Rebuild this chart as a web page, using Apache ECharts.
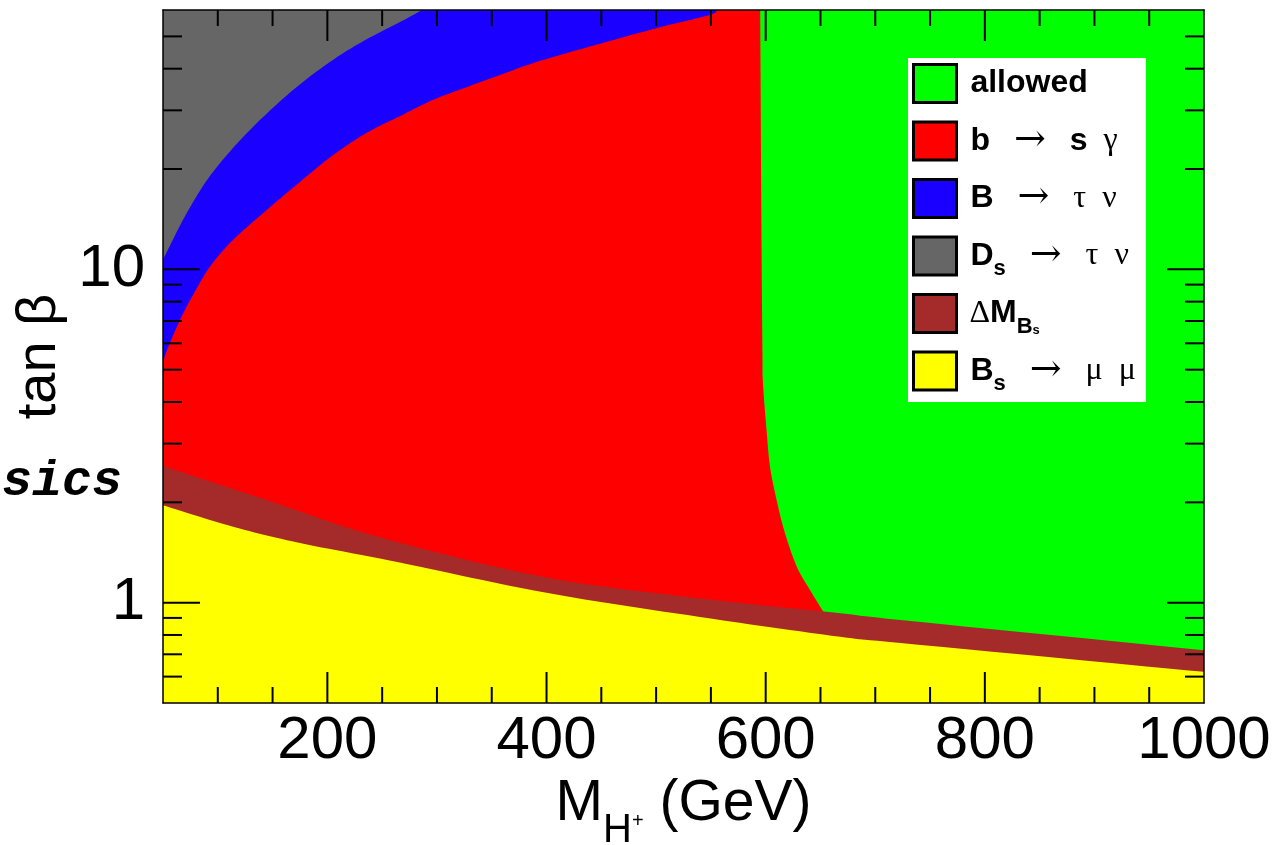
<!DOCTYPE html>
<html>
<head>
<meta charset="utf-8">
<script src="https://cdn.jsdelivr.net/npm/echarts@6/dist/echarts.min.js"></script>
<style>
  html, body { margin: 0; padding: 0; background: #fff; }
  #chart { width: 1281px; height: 845px; }
</style>
</head>
<body>
<div id="chart"></div>
<script>
// ---- axis ranges and ticks ----
const xRange = [50, 1000];
const yRange = [0.5, 60];
const xLabelValues = [200, 400, 600, 800, 1000];
const yLabelValues = [1, 10];
const xMajorTicks = [200, 400, 600, 800];
const xMinorTicks = [100, 150, 250, 300, 350, 450, 500, 550, 650, 700, 750, 850, 900, 950];
const yMajorTicks = [1, 10];
const yMinorTicks = [0.6, 0.7, 0.8, 0.9, 2, 3, 4, 5, 6, 7, 8, 9, 20, 30, 40, 50];

// ---- region boundaries (M_H+ in GeV, tan beta) ----
// b -> s gamma : excluded left of this curve
const bsgM   = [595, 596, 597, 597.5, 601, 604, 610, 617.5, 628.5, 640.5, 652.5];
const bsgTan = [60, 15, 5.73, 4.56, 3.23, 2.55, 2.03, 1.62, 1.28, 1.09, 0.94];
// B -> tau nu : excluded above this curve
const btnM   = [50, 53.7, 65.5, 77.4, 92.9, 113.9, 144.9, 175, 205, 236, 266, 296, 327, 357.5, 388, 419, 451.5, 501, 549, 555];
const btnTan = [5.27, 5.73, 7.05, 8.38, 10.2, 12.25, 15.1, 18.3, 22.0, 25.7, 28.8, 32.2, 35.2, 38.3, 41.6, 44.6, 47.8, 53.0, 58.0, 60];
// Ds -> tau nu : excluded above this curve
const dstnM   = [50, 71.9, 95.6, 129.4, 168.6, 205.1, 236.2, 266.3, 286.4];
const dstnTan = [10.7, 14.8, 19.6, 26.2, 34.5, 42.5, 49.1, 55.2, 60];
// Delta M_Bs : excluded below this curve
const dmbsM   = [50, 145, 248, 400, 540, 668, 723, 1000];
const dmbsTan = [2.57, 2.03, 1.57, 1.19, 1.03, 0.93, 0.887, 0.72];
// Bs -> mu mu : excluded below this curve
const bsmmM   = [50, 114, 175, 266, 400, 540, 668, 723, 1000];
const bsmmTan = [1.96, 1.69, 1.51, 1.32, 1.07, 0.906, 0.79, 0.757, 0.62];

const zip = (a, b) => a.map((v, i) => [v, b[i]]);

// each region: a smooth boundary curve followed by straight closing corners
const regions = [
  { name: 'allowed',  color: '#00ff00', curve: [],
    close: [[xRange[0], yRange[0]], [xRange[1], yRange[0]], [xRange[1], yRange[1]], [xRange[0], yRange[1]]] },
  { name: 'b → s γ',  color: '#ff0000', curve: zip(bsgM, bsgTan),
    close: [[bsgM[bsgM.length - 1], yRange[0]], [xRange[0], yRange[0]], [xRange[0], yRange[1]]] },
  { name: 'B → τ ν',  color: '#1a00ff', curve: zip(btnM, btnTan), close: [[xRange[0], yRange[1]]] },
  { name: 'Ds → τ ν', color: '#666666', curve: zip(dstnM, dstnTan), close: [[xRange[0], yRange[1]]] },
  { name: 'ΔMBs',     color: '#a52a2a', curve: zip(dmbsM, dmbsTan), close: [[xRange[1], yRange[0]], [xRange[0], yRange[0]]] },
  { name: 'Bs → μ μ', color: '#ffff00', curve: zip(bsmmM, bsmmTan), close: [[xRange[1], yRange[0]], [xRange[0], yRange[0]]] }
];

// every row ends with / contains a subscript-style token so all rows share one height
const legendLabels = {
  'allowed':  '{b| allowed}{sub| }',
  'b → s γ':  '{b| b}{y|   }{a|→}{y|   }{b|s}{y|  γ}{sub| }',
  'B → τ ν':  '{b| B}{y|   }{a|→}{y|   τ  ν}{sub| }',
  'Ds → τ ν': '{b| D}{sub|s}{y|   }{a|→}{y|   τ  ν}',
  'ΔMBs':     '{y| Δ}{b|M}{sub|B}{ss|s}',
  'Bs → μ μ': '{b| B}{sub|s}{y|   }{a|→}{y|   μ  μ}'
};

// Catmull-Rom sampling in pixel space
function spline(px, n) {
  if (px.length < 3) return px.slice();
  const out = [];
  for (let i = 0; i < px.length - 1; i++) {
    const p0 = px[Math.max(i - 1, 0)], p1 = px[i], p2 = px[i + 1], p3 = px[Math.min(i + 2, px.length - 1)];
    for (let k = 0; k < n; k++) {
      const t = k / n, t2 = t * t, t3 = t2 * t;
      const f = (a, b, c, d) => 0.5 * ((2 * b) + (-a + c) * t + (2 * a - 5 * b + 4 * c - d) * t2 + (-a + 3 * b - 3 * c + d) * t3);
      out.push([f(p0[0], p1[0], p2[0], p3[0]), f(p0[1], p1[1], p2[1], p3[1])]);
    }
  }
  out.push(px[px.length - 1]);
  return out;
}

function makeRegionRender(region) {
  return function (params, api) {
    if (params.dataIndex !== 0) return null;
    const curvePx = spline(region.curve.map(p => api.coord(p)), 12);
    const pts = curvePx.concat(region.close.map(p => api.coord(p)));
    return { type: 'polygon', shape: { points: pts }, style: { fill: region.color, stroke: null } };
  };
}

const regionSeries = regions.map(r => ({
  type: 'custom',
  name: r.name,
  coordinateSystem: 'cartesian2d',
  clip: true,
  silent: true,
  itemStyle: { color: r.color },
  encode: { x: 0, y: 1 },
  data: r.curve.concat(r.close),
  renderItem: makeRegionRender(r)
}));

// tick data: [x, y, kind] kind 0 xMajor, 1 xMinor, 2 yMajor, 3 yMinor
const tickData = []
  .concat(xMajorTicks.map(v => [v, yRange[0], 0]))
  .concat(xMinorTicks.map(v => [v, yRange[0], 1]))
  .concat(yMajorTicks.map(v => [xRange[0], v, 2]))
  .concat(yMinorTicks.map(v => [xRange[0], v, 3]));

const tickSeries = {
  type: 'custom',
  name: 'ticks',
  coordinateSystem: 'cartesian2d',
  clip: false,
  silent: true,
  z: 9,
  encode: { x: 0, y: 1 },
  data: tickData,
  renderItem: function (params, api) {
    const kind = api.value(2);
    const st = { stroke: '#000', lineWidth: 2 };
    if (kind < 2) {
      const v = api.value(0);
      const L = kind === 0 ? 31 : 16;
      const b = api.coord([v, yRange[0]]);
      const t = api.coord([v, yRange[1]]);
      return { type: 'group', children: [
        { type: 'line', shape: { x1: b[0], y1: b[1], x2: b[0], y2: b[1] - L }, style: st },
        { type: 'line', shape: { x1: t[0], y1: t[1], x2: t[0], y2: t[1] + L }, style: st }
      ]};
    } else {
      const v = api.value(1);
      const L = kind === 2 ? 37 : 19;
      const l = api.coord([xRange[0], v]);
      const r = api.coord([xRange[1], v]);
      return { type: 'group', children: [
        { type: 'line', shape: { x1: l[0], y1: l[1], x2: l[0] + L, y2: l[1] }, style: st },
        { type: 'line', shape: { x1: r[0], y1: r[1], x2: r[0] - L, y2: r[1] }, style: st }
      ]};
    }
  }
};

const FONT = 'Liberation Sans';
const frameLine = { show: true, onZero: false, lineStyle: { color: '#000', width: 1.5 } };

const chart = echarts.init(document.getElementById('chart'));
chart.setOption({
  animation: false,
  backgroundColor: '#fff',
  grid: { left: 163, right: 77, top: 10, bottom: 142, containLabel: false, outerBoundsMode: 'none' },
  xAxis: [
    {
      type: 'value', min: xRange[0], max: xRange[1], interval: 50, position: 'bottom', z: 10,
      axisLine: frameLine, axisTick: { show: false }, splitLine: { show: false },
      axisLabel: {
        fontSize: 60, fontFamily: FONT, color: '#000', margin: 8,
        formatter: v => (xLabelValues.indexOf(Math.round(v)) >= 0 ? String(Math.round(v)) : '')
      },
      name: '{m|M}{h|H}{p|+}{m| (GeV)}',
      nameLocation: 'middle', nameGap: 70,
      nameTextStyle: {
        fontFamily: FONT, color: '#000', fontSize: 57,
        rich: {
          m: { fontFamily: FONT, fontSize: 57, lineHeight: 60, color: '#000' },
          h: { fontFamily: FONT, fontSize: 40, lineHeight: 60, height: 6, verticalAlign: 'bottom', color: '#000' },
          p: { fontFamily: FONT, fontSize: 20, lineHeight: 60, height: 26, verticalAlign: 'bottom', color: '#000' }
        }
      }
    },
    {
      type: 'value', min: xRange[0], max: xRange[1], interval: 50, position: 'top', z: 10,
      axisLine: frameLine, axisTick: { show: false }, splitLine: { show: false }, axisLabel: { show: false }
    }
  ],
  yAxis: [
    {
      type: 'log', logBase: 10, min: yRange[0], max: yRange[1], position: 'left', z: 10,
      axisLine: frameLine, axisTick: { show: false }, splitLine: { show: false },
      axisLabel: {
        fontSize: 60, fontFamily: FONT, color: '#000', margin: 18,
        formatter: v => { const r = Math.round(v * 1000) / 1000; return yLabelValues.indexOf(r) >= 0 ? String(r) : ''; }
      },
      name: 'tan β', nameLocation: 'middle', nameGap: 92,
      nameTextStyle: { fontFamily: FONT, fontSize: 56, color: '#000' }
    },
    {
      type: 'log', logBase: 10, min: yRange[0], max: yRange[1], position: 'right', z: 10,
      axisLine: frameLine, axisTick: { show: false }, splitLine: { show: false }, axisLabel: { show: false }
    }
  ],
  legend: {
    orient: 'vertical', left: 908, top: 58, padding: [5, 10, 7, 4],
    itemGap: 13, itemWidth: 43, itemHeight: 38, icon: 'rect',
    backgroundColor: '#fff', selectedMode: false,
    data: regions.map(r => r.name),
    itemStyle: { borderColor: '#000', borderWidth: 3 },
    formatter: n => legendLabels[n],
    textStyle: {
      color: '#000', fontSize: 32, fontFamily: FONT,
      rich: {
        b:   { fontFamily: FONT, fontWeight: 'bold', fontSize: 32, lineHeight: 40, color: '#000' },
        y:   { fontFamily: 'Liberation Serif', fontSize: 32, lineHeight: 40, color: '#000' },
        a:   { fontFamily: 'DejaVu Serif', fontSize: 38, lineHeight: 40, color: '#000' },
        sub: { fontFamily: FONT, fontWeight: 'bold', fontSize: 22, lineHeight: 40, height: 14, verticalAlign: 'bottom', color: '#000' },
        ss:  { fontFamily: FONT, fontWeight: 'bold', fontSize: 13, lineHeight: 40, height: 6, verticalAlign: 'bottom', color: '#000' }
      }
    }
  },
  graphic: [
    {
      type: 'text', x: 122, y: 482, z: 20,
      style: { text: 'sics', font: 'italic bold 50px "Liberation Mono"', fill: '#000', align: 'right', verticalAlign: 'middle' }
    }
  ],
  series: regionSeries.concat([tickSeries])
});
</script>
</body>
</html>
